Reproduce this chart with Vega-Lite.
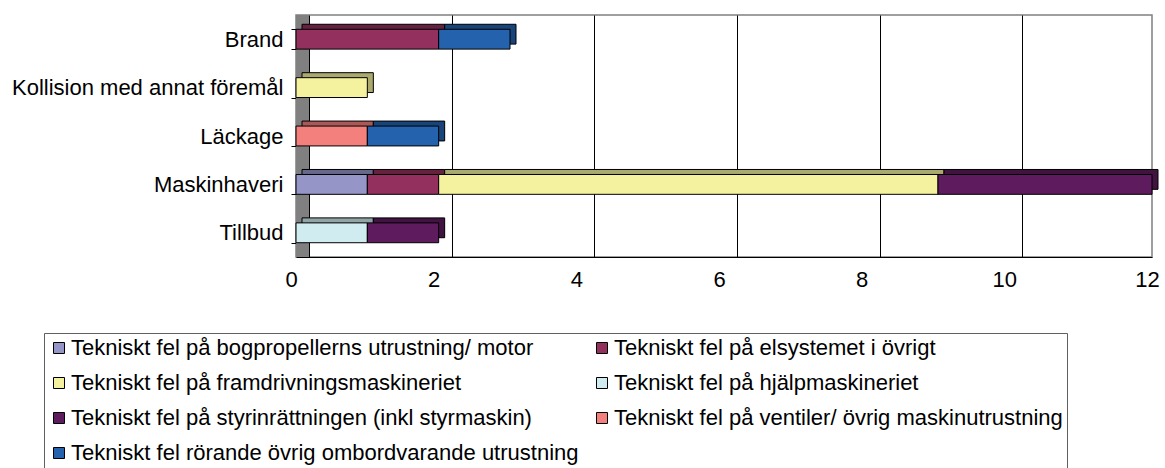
{
  "$schema": "https://vega.github.io/schema/vega-lite/v6.json",
  "width": 856,
  "height": 242,
  "autosize": {"type": "none"},
  "padding": {"left": 296, "top": 15, "right": 13, "bottom": 211},
  "background": "white",
  "config": {
    "font": "Liberation Sans",
    "view": {"stroke": "#808080", "strokeWidth": 1.5},
    "axis": {"labelFont": "Liberation Sans", "labelFontSize": 22, "labelColor": "black"},
    "legend": {
      "orient": "none",
      "legendX": -252,
      "legendY": 318,
      "columns": 2,
      "gridAlign": "all",
      "columnPadding": 12,
      "rowPadding": 13,
      "padding": 4,
      "strokeColor": "#606060",
      "symbolType": "square",
      "symbolSize": 121,
      "symbolStrokeColor": "black",
      "symbolStrokeWidth": 1,
      "symbolOpacity": 1,
      "labelFont": "Liberation Sans",
      "labelFontSize": 22,
      "labelColor": "black",
      "labelLimit": 700,
      "labelOffset": 1
    }
  },
  "data": {
    "values": [
      {"kategori": "Brand", "orsak": "Tekniskt fel på elsystemet i övrigt", "nr": 2, "antal": 2},
      {"kategori": "Brand", "orsak": "Tekniskt fel rörande övrig ombordvarande utrustning", "nr": 7, "antal": 1},
      {"kategori": "Kollision med annat föremål", "orsak": "Tekniskt fel på framdrivningsmaskineriet", "nr": 3, "antal": 1},
      {"kategori": "Läckage", "orsak": "Tekniskt fel på ventiler/ övrig maskinutrustning", "nr": 6, "antal": 1},
      {"kategori": "Läckage", "orsak": "Tekniskt fel rörande övrig ombordvarande utrustning", "nr": 7, "antal": 1},
      {"kategori": "Maskinhaveri", "orsak": "Tekniskt fel på bogpropellerns utrustning/ motor", "nr": 1, "antal": 1},
      {"kategori": "Maskinhaveri", "orsak": "Tekniskt fel på elsystemet i övrigt", "nr": 2, "antal": 1},
      {"kategori": "Maskinhaveri", "orsak": "Tekniskt fel på framdrivningsmaskineriet", "nr": 3, "antal": 7},
      {"kategori": "Maskinhaveri", "orsak": "Tekniskt fel på styrinrättningen (inkl styrmaskin)", "nr": 5, "antal": 3},
      {"kategori": "Tillbud", "orsak": "Tekniskt fel på hjälpmaskineriet", "nr": 4, "antal": 1},
      {"kategori": "Tillbud", "orsak": "Tekniskt fel på styrinrättningen (inkl styrmaskin)", "nr": 5, "antal": 1}
    ]
  },
  "encoding": {
    "y": {
      "field": "kategori", "type": "nominal",
      "sort": ["Brand", "Kollision med annat föremål", "Läckage", "Maskinhaveri", "Tillbud"],
      "scale": {"paddingInner": 0.59, "paddingOuter": 0.295},
      "axis": {
        "title": null, "domain": false, "tickColor": "black", "tickSize": 5,
        "tickBand": "extent", "labelPadding": 8, "labelLimit": 400
      }
    },
    "x": {
      "field": "antal", "type": "quantitative", "stack": "zero",
      "scale": {"domain": [0, 12], "nice": false},
      "axis": {
        "title": null, "values": [0, 2, 4, 6, 8, 10, 12], "format": "d",
        "grid": true, "gridColor": "black", "gridWidth": 1,
        "tickOffset": 13, "labelOffset": -18, "ticks": false, "labelFlush": false,
        "domainColor": "black", "domainWidth": 1, "labelPadding": 12
      }
    },
    "order": {"field": "nr", "type": "quantitative"}
  },
  "layer": [
    {
      "mark": {"type": "rect", "color": "#808080"},
      "encoding": {
        "x": {"datum": 0, "type": "quantitative"},
        "x2": {"datum": 0.18},
        "y": null,
        "order": null
      }
    },
    {
      "mark": {"type": "bar", "stroke": "black", "strokeWidth": 1, "xOffset": 6, "yOffset": -5},
      "encoding": {
        "color": {"field": "orsak", "type": "nominal", "title": null}
      }
    },
    {
      "mark": {"type": "bar", "color": "black", "opacity": 0.3, "xOffset": 6, "yOffset": -5},
      "encoding": {
        "detail": {"field": "orsak", "type": "nominal"}
      }
    },
    {
      "mark": {"type": "bar", "stroke": "black", "strokeWidth": 1},
      "encoding": {
        "color": {
          "field": "orsak", "type": "nominal", "title": null,
          "scale": {
            "domain": [
              "Tekniskt fel på bogpropellerns utrustning/ motor",
              "Tekniskt fel på framdrivningsmaskineriet",
              "Tekniskt fel på styrinrättningen (inkl styrmaskin)",
              "Tekniskt fel rörande övrig ombordvarande utrustning",
              "Tekniskt fel på elsystemet i övrigt",
              "Tekniskt fel på hjälpmaskineriet",
              "Tekniskt fel på ventiler/ övrig maskinutrustning"
            ],
            "range": ["#9595C8", "#F4F29E", "#5E1C5E", "#2462AE", "#93305E", "#D0ECF0", "#F4807E"]
          }
        }
      }
    }
  ]
}
